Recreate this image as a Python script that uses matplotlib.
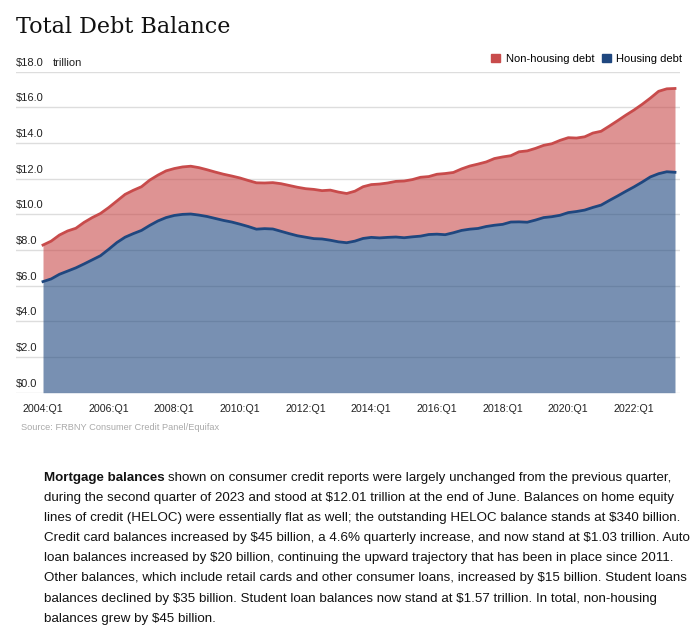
import numpy as np
import matplotlib
matplotlib.use('Agg')
import matplotlib.pyplot as plt
from matplotlib.patches import Patch
from matplotlib.transforms import blended_transform_factory

plt.rcParams['font.family'] = ['Liberation Sans', 'DejaVu Sans']

# 数据 (万亿美元)，2004:Q1 - 2023:Q2 季度
total_debt = [8.28, 8.50, 8.84, 9.07, 9.22, 9.55, 9.82, 10.05,
              10.38, 10.75, 11.12, 11.35, 11.55, 11.92, 12.20, 12.44,
              12.57, 12.66, 12.70, 12.62, 12.50, 12.37, 12.25, 12.15,
              12.04, 11.90, 11.77, 11.76, 11.78, 11.72, 11.62, 11.52,
              11.44, 11.40, 11.33, 11.36, 11.25, 11.17, 11.30, 11.55,
              11.67, 11.70, 11.76, 11.85, 11.87, 11.95, 12.08, 12.12,
              12.25, 12.29, 12.35, 12.55, 12.71, 12.82, 12.94, 13.13,
              13.22, 13.29, 13.51, 13.56, 13.70, 13.87, 13.96, 14.15,
              14.30, 14.28, 14.35, 14.56, 14.66, 14.95, 15.25, 15.56,
              15.85, 16.17, 16.52, 16.90, 17.04, 17.06]
housing_debt = [6.23, 6.38, 6.64, 6.82, 7.00, 7.22, 7.45, 7.68,
                8.04, 8.42, 8.72, 8.92, 9.10, 9.38, 9.63, 9.82,
                9.94, 10.00, 10.02, 9.96, 9.88, 9.77, 9.66, 9.57,
                9.45, 9.32, 9.17, 9.20, 9.18, 9.05, 8.92, 8.80,
                8.72, 8.64, 8.62, 8.55, 8.46, 8.41, 8.50, 8.65,
                8.71, 8.68, 8.71, 8.73, 8.69, 8.74, 8.78, 8.87,
                8.89, 8.86, 8.97, 9.10, 9.17, 9.21, 9.32, 9.39,
                9.44, 9.57, 9.58, 9.56, 9.68, 9.82, 9.87, 9.95,
                10.10, 10.16, 10.24, 10.39, 10.52, 10.78, 11.03, 11.29,
                11.54, 11.81, 12.10, 12.28, 12.39, 12.36]
quarters = ['%d:Q%d' % (2004 + i // 4, i % 4 + 1) for i in range(len(total_debt))]
y_ticks = [0, 2, 4, 6, 8, 10, 12, 14, 16, 18]

paragraph = [
    'shown on consumer credit reports were largely unchanged from the previous quarter,',
    'during the second quarter of 2023 and stood at $12.01 trillion at the end of June. Balances on home equity',
    'lines of credit (HELOC) were essentially flat as well; the outstanding HELOC balance stands at $340 billion.',
    'Credit card balances increased by $45 billion, a 4.6% quarterly increase, and now stand at $1.03 trillion. Auto',
    'loan balances increased by $20 billion, continuing the upward trajectory that has been in place since 2011.',
    'Other balances, which include retail cards and other consumer loans, increased by $15 billion. Student loans',
    'balances declined by $35 billion. Student loan balances now stand at $1.57 trillion. In total, non-housing',
    'balances grew by $45 billion.',
]

blue = '#1f477f'
red = '#c84b4b'

fig = plt.figure(figsize=(7, 6.31), dpi=100)
W, H = 700, 631
ax = fig.add_axes([16 / W, 1 - 392.7 / H, 664 / W, 321 / H])

x = np.arange(len(total_debt))
hd = np.array(housing_debt)
td = np.array(total_debt)
ax.fill_between(x, 0, hd, color=blue, alpha=0.6, lw=0, zorder=2)
ax.fill_between(x, hd, td, color=red, alpha=0.6, lw=0, zorder=2)
ax.plot(x, td, color=red, lw=2, zorder=3)
ax.plot(x, hd, color=blue, lw=2, zorder=3)

ax.set_xlim(-3.29, 77.61)
ax.set_ylim(0, 18)
ax.set_yticks(y_ticks)
ax.set_yticklabels([])
ax.tick_params(axis='y', length=0)
ax.grid(axis='y', color='#dddddd', lw=1)
ax.set_axisbelow(True)
for s in ax.spines.values():
    s.set_visible(False)

ax.set_xticks(x[::8])
ax.set_xticklabels(quarters[::8], fontsize=7.7, color='#222222')
ax.tick_params(axis='x', length=0, pad=8)

tr = blended_transform_factory(ax.transAxes, ax.transData)
for v in y_ticks:
    ax.text(0, v + 0.22, '$%.1f' % v, transform=tr, fontsize=8,
            color='#222222', va='bottom', ha='left', zorder=5)
ax.text(37 / 664, 18.22, 'trillion', transform=tr, fontsize=8,
        color='#222222', va='bottom', ha='left')

fig.text(16 / W, 1 - 27 / H, 'Total Debt Balance', family='DejaVu Serif',
         fontsize=16, va='center', ha='left', color='#111111')

handles = [Patch(color=red, label='Non-housing debt'),
           Patch(color=blue, label='Housing debt')]
fig.legend(handles=handles, loc='center right', bbox_to_anchor=(688 / W, 1 - 59 / H),
           ncol=2, frameon=False, fontsize=8, handlelength=0.8, handleheight=0.8,
           handletextpad=0.5, columnspacing=0.7, borderpad=0)

fig.text(21 / W, 1 - 428 / H, 'Source: FRBNY Consumer Credit Panel/Equifax',
         fontsize=6.7, color='#aaaaaa', va='center', ha='left')

# 下方文字
fs = 9.6
y0 = 478
b = fig.text(44 / W, 1 - y0 / H, 'Mortgage balances ', fontweight='bold',
             fontsize=fs, va='center', ha='left', color='#111111', parse_math=False)
fig.canvas.draw()
bb = b.get_window_extent()
fig.text(bb.x1 / W, 1 - y0 / H, paragraph[0], fontsize=fs, va='center',
         ha='left', color='#111111', parse_math=False)
for i, line in enumerate(paragraph[1:]):
    fig.text(44 / W, 1 - (y0 + 20.1 * (i + 1)) / H, line, fontsize=fs,
             va='center', ha='left', color='#111111', parse_math=False)

plt.savefig('out.png', dpi=100)
